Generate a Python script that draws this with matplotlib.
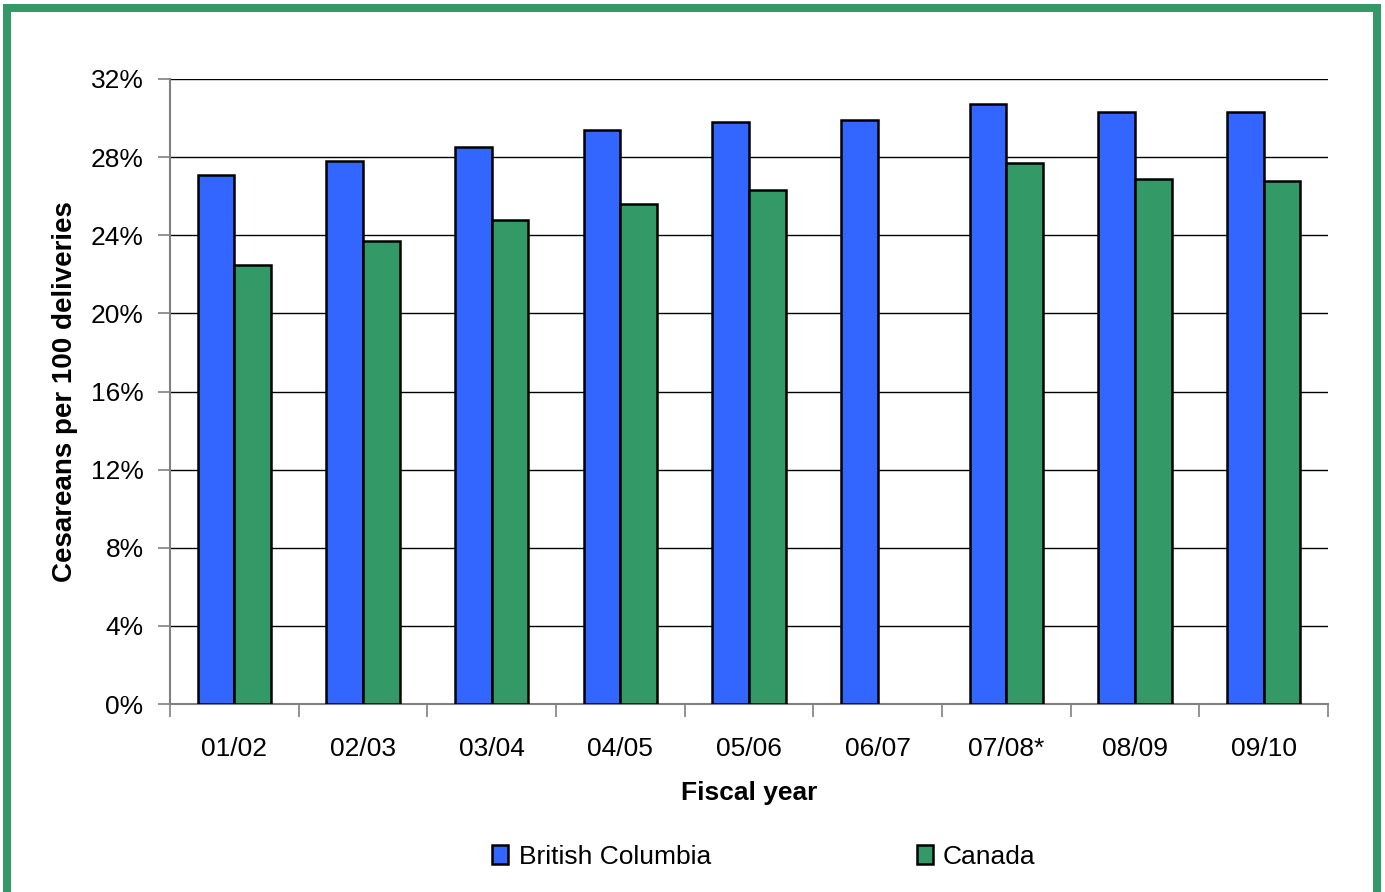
import matplotlib
matplotlib.use("Agg")
import matplotlib.pyplot as plt
import numpy as np
from matplotlib.patches import Rectangle
from matplotlib.ticker import FuncFormatter

years = ["01/02", "02/03", "03/04", "04/05", "05/06", "06/07", "07/08*", "08/09", "09/10"]
bc = [27.1, 27.8, 28.5, 29.4, 29.8, 29.9, 30.7, 30.3, 30.3]
canada = [22.5, 23.7, 24.8, 25.6, 26.3, np.nan, 27.7, 26.9, 26.8]
series_names = ["British Columbia", "Canada"]
yticks = [0, 4, 8, 12, 16, 20, 24, 28, 32]

BLUE = "#3366FF"
GREEN = "#339966"

plt.rcParams['font.family'] = ['Liberation Sans', 'DejaVu Sans']

W, H = 1385, 892
fig = plt.figure(figsize=(W / 100, H / 100), dpi=100)
ax = fig.add_axes([170 / W, 1 - 704 / H, (1328 - 170) / W, (704 - 79) / H])

x = np.arange(len(years))
bw = 0.285
ax.bar(x - bw / 2, bc, width=bw, color=BLUE, edgecolor="black", linewidth=1.8,
       label=series_names[0], zorder=3)
ax.bar(x + bw / 2, canada, width=bw, color=GREEN, edgecolor="black", linewidth=1.8,
       label=series_names[1], zorder=3)

ax.set_xlim(-0.5, len(years) - 0.5)
ax.set_ylim(0, 32)
ax.set_yticks(yticks)
ax.yaxis.set_major_formatter(FuncFormatter(lambda v, p: f"{int(v)}%"))
ax.grid(axis="y", color="black", linewidth=1.0, zorder=0)
ax.set_axisbelow(True)

ax.set_xticks(x)
ax.set_xticklabels(years)
ax.set_xticks(np.arange(len(years) + 1) - 0.5, minor=True)
ax.tick_params(axis="x", which="major", length=0, pad=24, labelsize=19)
ax.tick_params(axis="x", which="minor", length=9, width=1.2, color="#808080", direction="out")
ax.tick_params(axis="y", length=9, width=1.2, color="#808080", pad=10, labelsize=19)

for s in ["top", "right"]:
    ax.spines[s].set_visible(False)
for s in ["left", "bottom"]:
    ax.spines[s].set_color("#808080")
    ax.spines[s].set_linewidth(1.5)

ax.set_ylabel("Cesareans per 100 deliveries", fontsize=20, fontweight="bold", labelpad=9)
ax.set_xlabel("Fiscal year", fontsize=19, fontweight="bold", labelpad=14)

fig.legend(loc="center", bbox_to_anchor=(764 / W, 1 - 857 / H), ncol=2, frameon=False,
           fontsize=19, handlelength=0.6, handleheight=0.75, handletextpad=0.4,
           columnspacing=7.8)

# green frame
lw_pt = 8 * 72 / 100
fig.patches.append(Rectangle((7 / W, -0.05), (1377 - 7) / W, 1.05 - 8 / H,
                             transform=fig.transFigure, fill=False,
                             edgecolor=GREEN, linewidth=lw_pt, zorder=10))

fig.savefig("out.png", dpi=100)
